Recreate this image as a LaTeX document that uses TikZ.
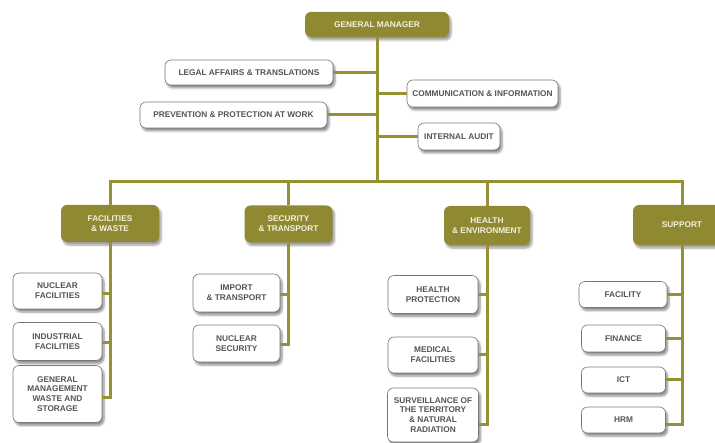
\documentclass[tikz,border=0pt]{standalone}
\usepackage{fontspec}
\setmainfont{Liberation Sans}
\usetikzlibrary{shadows.blur}
\definecolor{olive}{RGB}{143,138,50}
\definecolor{lineolive}{RGB}{150,145,52}
\definecolor{boxtext}{RGB}{85,85,85}
\definecolor{boxedge}{RGB}{120,120,120}
\definecolor{headtext}{RGB}{242,240,222}
\begin{document}
\begin{tikzpicture}[x=1pt,y=-1pt,
  every node/.style={font=\fontsize{8.3}{9.8}\selectfont\bfseries, align=center, inner sep=0pt},
  headbox/.style={fill=olive, text=headtext, rounded corners=6pt,
    blur shadow={shadow xshift=2pt, shadow yshift=-3pt, shadow blur steps=6, shadow opacity=40}},
  unitbox/.style={draw=boxedge, line width=0.6pt, fill=white, text=boxtext, rounded corners=6pt,
    blur shadow={shadow xshift=2pt, shadow yshift=-3pt, shadow blur steps=6, shadow opacity=45}},
  conn/.style={draw=lineolive, line width=3pt}]
\useasboundingbox (0,0) rectangle (715,443);
\begin{scope}
\clip (0,0) rectangle (715,443);

% top level
\node[headbox, minimum width=144pt, minimum height=25pt] (gm) at (377,24.5) {GENERAL MANAGER};

% staff units
\node[unitbox, minimum width=168pt, minimum height=25pt] (legal) at (249,72.5) {LEGAL AFFAIRS \& TRANSLATIONS};
\node[unitbox, minimum width=187pt, minimum height=26pt] (prev) at (233.5,115) {PREVENTION \& PROTECTION AT WORK};
\node[unitbox, minimum width=151pt, minimum height=27pt] (comm) at (482.5,93.5) {COMMUNICATION \& INFORMATION};
\node[unitbox, minimum width=82pt, minimum height=27pt] (audit) at (459,136.5) {INTERNAL AUDIT};

% departments
\coordinate (bar) at (377,182);
\node[headbox, minimum width=98pt, minimum height=37pt] (fw) at (110,223.5) {FACILITIES\\\& WASTE};
\node[headbox, minimum width=88pt, minimum height=37pt] (st) at (288.5,224) {SECURITY\\\& TRANSPORT};
\node[headbox, minimum width=86pt, minimum height=39pt] (he) at (487,225.5) {HEALTH\\\& ENVIRONMENT};
\node[headbox, minimum width=98pt, minimum height=40pt] (sp) at (682,225) {SUPPORT};

% facilities & waste
\node[unitbox, minimum width=89pt, minimum height=36pt] (nf) at (57.5,291) {NUCLEAR\\FACILITIES};
\node[unitbox, minimum width=89pt, minimum height=38pt] (inf) at (57.5,341.5) {INDUSTRIAL\\FACILITIES};
\node[unitbox, minimum width=89pt, minimum height=57pt] (gmw) at (57.5,394) {GENERAL\\MANAGEMENT\\WASTE AND\\STORAGE};

% security & transport
\node[unitbox, minimum width=87pt, minimum height=38pt] (imp) at (236.5,293) {IMPORT\\\& TRANSPORT};
\node[unitbox, minimum width=87pt, minimum height=37pt] (ns) at (236.5,343.5) {NUCLEAR\\SECURITY};

% health & environment
\node[unitbox, minimum width=90pt, minimum height=38pt] (hp) at (433,294.5) {HEALTH\\PROTECTION};
\node[unitbox, minimum width=90pt, minimum height=36pt] (mf) at (433,355) {MEDICAL\\FACILITIES};
\node[unitbox, minimum width=91pt, minimum height=54pt] (sv) at (433,415) {SURVEILLANCE OF\\THE TERRITORY\\\& NATURAL\\RADIATION};

% support
\node[unitbox, minimum width=88pt, minimum height=26pt] (fa) at (623,294.5) {FACILITY};
\node[unitbox, minimum width=84pt, minimum height=27pt] (fi) at (623.5,338.5) {FINANCE};
\node[unitbox, minimum width=84pt, minimum height=26pt] (ict) at (623.5,380) {ICT};
\node[unitbox, minimum width=84pt, minimum height=26pt] (hrm) at (623.5,420) {HRM};

% connectors: top level
\draw[conn] (gm.south) -- (bar);
\draw[conn] (legal.east) -- (legal.east -| bar);
\draw[conn] (prev.east) -- (prev.east -| bar);
\draw[conn] (comm.west) -- (comm.west -| bar);
\draw[conn] (audit.west) -- (audit.west -| bar);

% connectors: departments
\draw[conn] (fw.north) -- (fw.north |- bar) -- (sp.north |- bar) -- (sp.north);
\draw[conn] (st.north) -- (st.north |- bar);
\draw[conn] (he.north) -- (he.north |- bar);

% connectors: units
\draw[conn] (fw.south) |- ([yshift=-4pt]gmw.east);
\draw[conn] ([yshift=-3pt]nf.east) -- ([yshift=-3pt]nf.east -| fw.south);
\draw[conn] ([yshift=-1.5pt]inf.east) -- ([yshift=-1.5pt]inf.east -| fw.south);

\draw[conn] (st.south) |- ([yshift=-1.5pt]ns.east);
\draw[conn] ([yshift=-2pt]imp.east) -- ([yshift=-2pt]imp.east -| st.south);

\draw[conn] (he.south) |- ([yshift=-10pt]sv.east);
\draw[conn] (hp.east) -- (hp.east -| he.south);
\draw[conn] (mf.east) -- (mf.east -| he.south);

\draw[conn] (sp.south) |- ([yshift=-5pt]hrm.east);
\draw[conn] (fa.east) -- (fa.east -| sp.south);
\draw[conn] (fi.east) -- (fi.east -| sp.south);
\draw[conn] (ict.east) -- (ict.east -| sp.south);
\end{scope}
\end{tikzpicture}
\end{document}
